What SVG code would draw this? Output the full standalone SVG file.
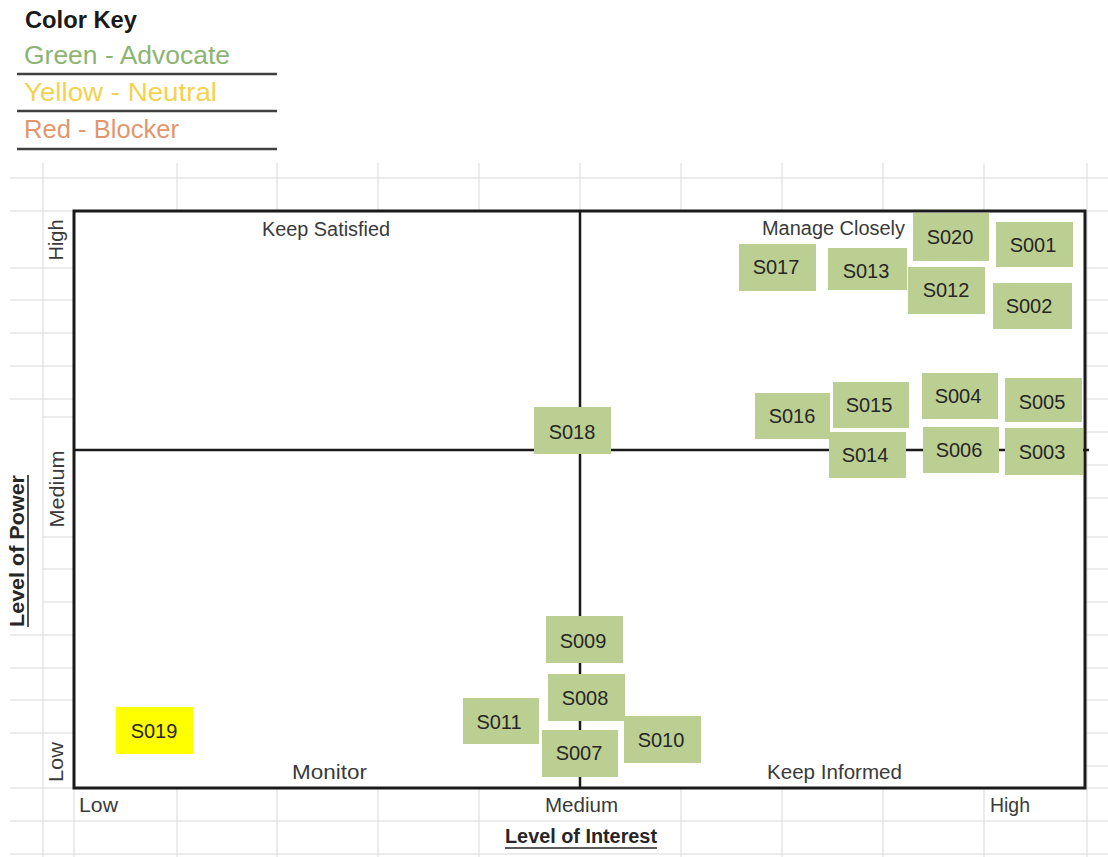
<svg xmlns="http://www.w3.org/2000/svg" width="1108" height="857" viewBox="0 0 1108 857">
  <style>
    text { font-family: "Liberation Sans", Arial, sans-serif; }
    .grid line { stroke: #d9d9d9; stroke-width: 1; }
    .key-rule { stroke: #404040; stroke-width: 2.5; }
    .lbl { font-size: 20px; fill: #3a3a3a; }
    .axis-title { font-size: 20px; font-weight: bold; fill: #262626; }
    .uline { stroke: #262626; stroke-width: 1.6; }
    .frame { fill: #ffffff; stroke: #1a1a1a; stroke-width: 3; }
    .divider { stroke: #1a1a1a; stroke-width: 2.5; }
    .node rect { fill: #bccf93; }
    .node.neutral rect { fill: #ffff00; }
    .node text { font-size: 20px; fill: #262626; text-anchor: middle; }
  </style>

  <rect width="1108" height="857" fill="#ffffff"/>

  <!-- spreadsheet cell grid -->
  <g class="grid">
    <!-- rows, left margin -->
    <line x1="10" y1="178" x2="1108" y2="178"/>
    <line x1="10" y1="211" x2="74" y2="211"/>
    <line x1="10" y1="268" x2="74" y2="268"/>
    <line x1="10" y1="300" x2="74" y2="300"/>
    <line x1="10" y1="333" x2="74" y2="333"/>
    <line x1="10" y1="366" x2="74" y2="366"/>
    <line x1="10" y1="399" x2="74" y2="399"/>
    <line x1="43" y1="417" x2="74" y2="417"/>
    <line x1="43" y1="537" x2="74" y2="537"/>
    <line x1="43" y1="569" x2="74" y2="569"/>
    <line x1="43" y1="602" x2="74" y2="602"/>
    <line x1="10" y1="635" x2="74" y2="635"/>
    <line x1="10" y1="668" x2="74" y2="668"/>
    <line x1="10" y1="700" x2="74" y2="700"/>
    <line x1="10" y1="733" x2="74" y2="733"/>
    <line x1="10" y1="788" x2="74" y2="788"/>
    <line x1="10" y1="821" x2="1108" y2="821"/>
    <line x1="10" y1="854" x2="1108" y2="854"/>
    <!-- rows, right margin -->
    <line x1="1085" y1="211" x2="1108" y2="211"/>
    <line x1="1085" y1="268" x2="1108" y2="268"/>
    <line x1="1085" y1="300" x2="1108" y2="300"/>
    <line x1="1085" y1="333" x2="1108" y2="333"/>
    <line x1="1085" y1="366" x2="1108" y2="366"/>
    <line x1="1085" y1="399" x2="1108" y2="399"/>
    <line x1="1085" y1="432" x2="1108" y2="432"/>
    <line x1="1085" y1="465" x2="1108" y2="465"/>
    <line x1="1085" y1="498" x2="1108" y2="498"/>
    <line x1="1085" y1="537" x2="1108" y2="537"/>
    <line x1="1085" y1="569" x2="1108" y2="569"/>
    <line x1="1085" y1="602" x2="1108" y2="602"/>
    <line x1="1085" y1="635" x2="1108" y2="635"/>
    <line x1="1085" y1="668" x2="1108" y2="668"/>
    <line x1="1085" y1="700" x2="1108" y2="700"/>
    <line x1="1085" y1="733" x2="1108" y2="733"/>
    <line x1="1085" y1="766" x2="1108" y2="766"/>
    <line x1="1085" y1="788" x2="1108" y2="788"/>
    <!-- columns -->
    <line x1="43" y1="163" x2="43" y2="857"/>
    <line x1="1087" y1="163" x2="1087" y2="857"/>
    <line x1="74" y1="788" x2="74" y2="857"/>
    <line x1="177" y1="163" x2="177" y2="211"/>
    <line x1="277" y1="163" x2="277" y2="211"/>
    <line x1="378" y1="163" x2="378" y2="211"/>
    <line x1="479" y1="163" x2="479" y2="211"/>
    <line x1="580" y1="163" x2="580" y2="211"/>
    <line x1="681" y1="163" x2="681" y2="211"/>
    <line x1="782" y1="163" x2="782" y2="211"/>
    <line x1="883" y1="163" x2="883" y2="211"/>
    <line x1="984" y1="163" x2="984" y2="211"/>
    <line x1="177" y1="788" x2="177" y2="857"/>
    <line x1="277" y1="788" x2="277" y2="857"/>
    <line x1="378" y1="788" x2="378" y2="857"/>
    <line x1="479" y1="788" x2="479" y2="857"/>
    <line x1="681" y1="788" x2="681" y2="857"/>
    <line x1="782" y1="788" x2="782" y2="857"/>
    <line x1="883" y1="788" x2="883" y2="857"/>
    <line x1="984" y1="788" x2="984" y2="857"/>
  </g>

  <!-- colour legend -->
  <g id="color-key">
    <text x="25" y="28" font-size="23" font-weight="bold" fill="#1a1a1a" textLength="112" lengthAdjust="spacingAndGlyphs">Color Key</text>
    <text x="24" y="64" font-size="25" fill="#8cb473" textLength="206" lengthAdjust="spacingAndGlyphs">Green - Advocate</text>
    <line class="key-rule" x1="17" y1="74" x2="277" y2="74"/>
    <text x="24" y="101" font-size="25" fill="#f3d24e" textLength="193" lengthAdjust="spacingAndGlyphs">Yellow - Neutral</text>
    <line class="key-rule" x1="17" y1="111" x2="277" y2="111"/>
    <text x="24" y="138" font-size="25" fill="#e3966e" textLength="155" lengthAdjust="spacingAndGlyphs">Red - Blocker</text>
    <line class="key-rule" x1="17" y1="149" x2="277" y2="149"/>
  </g>

  <!-- matrix frame -->
  <rect class="frame" x="74" y="211" width="1011" height="577"/>

  <!-- quadrant dividers -->
  <g id="quadrant-lines">
    <line class="divider" x1="580" y1="211" x2="580" y2="788"/>
    <line class="divider" x1="74" y1="450" x2="1089" y2="450"/>
  </g>

  <!-- quadrant names -->
  <g id="quadrant-labels">
    <text class="lbl" x="262" y="236" textLength="128" lengthAdjust="spacingAndGlyphs">Keep Satisfied</text>
    <text class="lbl" x="762" y="235" textLength="143" lengthAdjust="spacingAndGlyphs">Manage Closely</text>
    <text class="lbl" x="292" y="779" textLength="75" lengthAdjust="spacingAndGlyphs">Monitor</text>
    <text class="lbl" x="767" y="779" textLength="135" lengthAdjust="spacingAndGlyphs">Keep Informed</text>
  </g>

  <!-- axis scales and titles -->
  <g id="axes">
    <text class="lbl" transform="translate(63,240) rotate(-90)" text-anchor="middle">High</text>
    <text class="lbl" transform="translate(64,489) rotate(-90)" text-anchor="middle" textLength="77" lengthAdjust="spacingAndGlyphs">Medium</text>
    <text class="lbl" transform="translate(63,762) rotate(-90)" text-anchor="middle" textLength="40" lengthAdjust="spacingAndGlyphs">Low</text>
    <text class="axis-title" transform="translate(24,551) rotate(-90)" text-anchor="middle" textLength="152" lengthAdjust="spacingAndGlyphs">Level of Power</text>
    <line class="uline" x1="28" y1="475" x2="28" y2="627"/>

    <text class="lbl" x="79" y="812" textLength="39" lengthAdjust="spacingAndGlyphs">Low</text>
    <text class="lbl" x="545" y="812" textLength="73" lengthAdjust="spacingAndGlyphs">Medium</text>
    <text class="lbl" x="990" y="812" textLength="40" lengthAdjust="spacingAndGlyphs">High</text>
    <text class="axis-title" x="505" y="843" textLength="152" lengthAdjust="spacingAndGlyphs">Level of Interest</text>
    <line class="uline" x1="505" y1="848" x2="657" y2="848"/>
  </g>

  <!-- stakeholders -->
  <g id="S020" class="node"><rect x="913" y="213" width="76" height="48"/><text x="950" y="244">S020</text></g>
  <g id="S001" class="node"><rect x="996" y="222" width="77" height="45"/><text x="1033" y="252">S001</text></g>
  <g id="S017" class="node"><rect x="739" y="244" width="77" height="47"/><text x="776" y="274">S017</text></g>
  <g id="S013" class="node"><rect x="828" y="248" width="79" height="42"/><text x="866" y="278">S013</text></g>
  <g id="S012" class="node"><rect x="908" y="267" width="77" height="47"/><text x="946" y="297">S012</text></g>
  <g id="S002" class="node"><rect x="993" y="283" width="79" height="46"/><text x="1029" y="313">S002</text></g>

  <g id="S016" class="node"><rect x="755" y="393" width="75" height="46"/><text x="792" y="423">S016</text></g>
  <g id="S015" class="node"><rect x="833" y="382" width="76" height="46"/><text x="869" y="412">S015</text></g>
  <g id="S004" class="node"><rect x="922" y="373" width="76" height="46"/><text x="958" y="403">S004</text></g>
  <g id="S005" class="node"><rect x="1005" y="378" width="77" height="44"/><text x="1042" y="409">S005</text></g>
  <g id="S014" class="node"><rect x="829" y="432" width="77" height="46"/><text x="865" y="462">S014</text></g>
  <g id="S006" class="node"><rect x="923" y="427" width="76" height="46"/><text x="959" y="457">S006</text></g>
  <g id="S003" class="node"><rect x="1005" y="428" width="78" height="47"/><text x="1042" y="459">S003</text></g>

  <g id="S018" class="node"><rect x="534" y="407" width="77" height="47"/><text x="572" y="439">S018</text></g>

  <g id="S009" class="node"><rect x="546" y="616" width="77" height="47"/><text x="583" y="648">S009</text></g>
  <g id="S008" class="node"><rect x="548" y="674" width="77" height="47"/><text x="585" y="705">S008</text></g>
  <g id="S011" class="node"><rect x="463" y="698" width="76" height="46"/><text x="499" y="729">S011</text></g>
  <g id="S007" class="node"><rect x="542" y="730" width="76" height="47"/><text x="579" y="760">S007</text></g>
  <g id="S010" class="node"><rect x="624" y="716" width="77" height="47"/><text x="661" y="747">S010</text></g>

  <g id="S019" class="node neutral"><rect x="116" y="707" width="77" height="47"/><text x="154" y="738">S019</text></g>
</svg>
